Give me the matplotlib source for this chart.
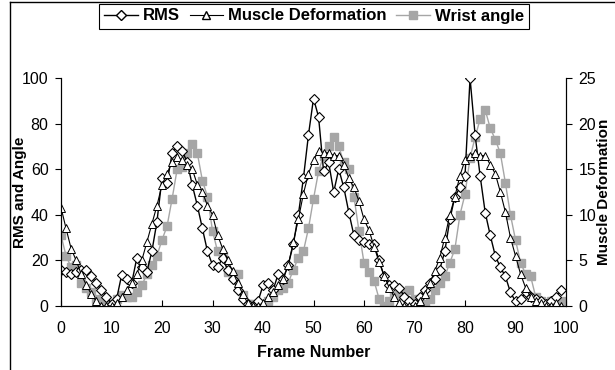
import numpy as np
import matplotlib.pyplot as plt
from matplotlib.lines import Line2D

plt.rcParams['font.family'] = ['Liberation Sans Narrow', 'Liberation Sans', 'DejaVu Sans']

frames = list(range(100))

rms = [16, 15, 14, 15, 16, 16, 13, 10, 7, 4,
       1, 3, 13.5, 12, 10, 21, 17, 15, 24, 37,
       56, 54, 67, 70, 68, 63, 53, 44, 34, 24,
       18, 17, 21, 16, 12, 7, 3, 1, 0, 2,
       9, 10, 7, 14, 12, 18, 27, 40, 56, 75,
       91, 83, 59, 63, 50, 60, 52, 41, 31, 29,
       28, 27, 27, 20, 13, 9, 9, 8, 4, 2,
       1, 4, 7, 10, 12, 16, 24, 38, 48, 52,
       57, 100, 75, 57, 41, 31, 22, 17, 13, 6,
       2, 3, 6, 4, 3, 2, 1, 2, 4, 7]

# muscle deformation, right axis (0-25)
muscle = [10.8, 8.5, 6.3, 5.0, 3.5, 2.3, 1.3, 0.5, 0, 0,
          0, 0.3, 1.0, 1.8, 2.5, 3.5, 5.0, 7.0, 9.0, 11.0,
          13.3, 14.5, 15.8, 16.3, 16.0, 15.5, 15.0, 13.3, 12.5, 11.0,
          10.0, 7.8, 6.3, 5.0, 3.8, 2.5, 1.3, 0.3, 0, 0,
          0.3, 1.0, 1.5, 2.3, 3.0, 4.5, 7.0, 9.5, 12.3, 14.5,
          16.0, 17.0, 16.8, 16.8, 16.5, 16.5, 15.5, 14.0, 13.0, 11.5,
          9.5, 8.3, 6.5, 4.8, 3.3, 2.0, 1.0, 0.3, 0, 0,
          0, 0.5, 1.3, 2.5, 3.8, 5.3, 7.5, 10.0, 12.0, 14.3,
          16.0, 16.5, 16.8, 16.5, 16.5, 15.5, 14.5, 12.5, 10.3, 7.5,
          5.5, 3.5, 2.0, 1.0, 0.5, 0.3, 0, 0, 0.3, 0]

wrist = [31, 22, 17, 18, 10, 8, 6, 3, 2, 1,
         1, 3, 5, 4, 4, 6, 9, 14, 18, 22,
         29, 35, 47, 60, 61, 67, 71, 67, 55, 48,
         33, 24, 22, 15, 14, 14, 5, 1, 1, 1,
         0, 2, 4, 7, 8, 10, 16, 21, 24, 34,
         47, 59, 66, 70, 74, 70, 63, 60, 48, 33,
         19, 15, 11, 3, 0, 2, 5, 5, 6, 7,
         3, 1, 1, 3, 7, 10, 13, 19, 25, 40,
         49, 65, 74, 82, 86, 78, 73, 67, 54, 40,
         29, 19, 14, 13, 4, 2, 1, 2, 1, 2]

fig = plt.figure(figsize=(6.15, 3.70), dpi=100)
ax = fig.add_axes([61/615, 1-306/370, (566-61)/615, (306-78)/370])
ax2 = ax.twinx()

gray = '#a6a6a6'
ax.plot(frames, wrist, color=gray, lw=1, marker='s', ms=5.5, mfc=gray, mec=gray)
ax.plot(frames, rms, color='black', lw=1, marker='D', ms=5, mfc='white', mec='black', mew=0.8)
ax2.plot(frames, muscle, color='black', lw=0.8, marker='^', ms=6, mfc='white', mec='black', mew=0.7)

ax.set_xlim(0, 100)
ax.set_ylim(0, 100)
ax2.set_ylim(0, 25)
ax.set_xticks(range(0, 101, 10))
ax.set_yticks(range(0, 101, 20))
ax2.set_yticks(range(0, 26, 5))

for a in (ax, ax2):
    a.spines['top'].set_visible(False)
    a.spines['left'].set_linewidth(0.8)
    a.spines['right'].set_linewidth(0.8)
    a.spines['bottom'].set_linewidth(0.8)
ax.tick_params(axis='x', direction='in', length=4, labelsize=11.5, pad=11)
ax.tick_params(axis='y', direction='out', length=4, labelsize=11.5, pad=5)
ax2.tick_params(axis='y', direction='out', length=4, labelsize=11.5, pad=5)

ax.set_xlabel('Frame Number', fontsize=11.5, fontweight='bold', labelpad=6)
ax.set_ylabel('RMS and Angle', fontsize=11, fontweight='bold')
ax2.set_ylabel('Muscle Deformation', fontsize=11, fontweight='bold')
ax.yaxis.set_label_coords((27 - 61) / 505, 0.5)
ax2.yaxis.set_label_coords((597 - 61) / 505, 0.5)

handles = [
    Line2D([], [], color='black', lw=1, marker='D', ms=5, mfc='white', mec='black'),
    Line2D([], [], color='black', lw=0.8, marker='^', ms=6, mfc='white', mec='black'),
    Line2D([], [], color=gray, lw=1, marker='s', ms=5.5, mfc=gray, mec=gray),
]
leg = fig.legend(handles, ['RMS', 'Muscle Deformation', 'Wrist angle'],
                 loc='center', bbox_to_anchor=(314/615, 1-16/370), ncol=3,
                 frameon=True, fancybox=False, edgecolor='black', framealpha=1,
                 prop={'weight': 'bold', 'size': 12}, handlelength=2.0,
                 handletextpad=0.3, columnspacing=0.6, borderpad=0.3)
leg.get_frame().set_linewidth(0.8)

# outer chart border
fig.add_artist(Line2D([10/615, 10/615], [0, 1-1.5/370], color='black', lw=1))
fig.add_artist(Line2D([10/615, 1], [1-1.5/370, 1-1.5/370], color='black', lw=1))

fig.savefig('out.png', dpi=100)
